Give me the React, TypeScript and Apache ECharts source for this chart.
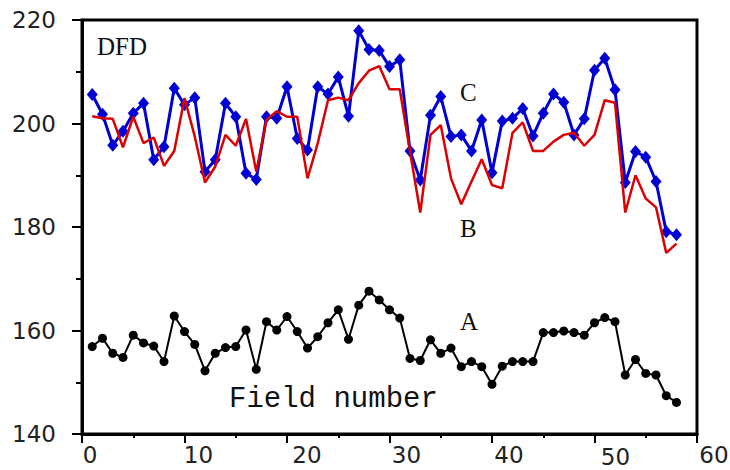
import React, { useEffect, useRef } from "react";
import * as echarts from "echarts";

const fieldNumbers = [
  1, 2, 3, 4, 5, 6, 7, 8, 9, 10, 11, 12, 13, 14, 15, 16, 17, 18, 19, 20,
  21, 22, 23, 24, 25, 26, 27, 28, 29, 30, 31, 32, 33, 34, 35, 36, 37, 38, 39, 40,
  41, 42, 43, 44, 45, 46, 47, 48, 49, 50, 51, 52, 53, 54, 55, 56, 57, 58,
];

const seriesA = [
  156.9, 158.5, 155.6, 154.8, 159.1, 157.6, 157.0, 154.0, 162.8, 159.8,
  157.3, 152.2, 155.6, 156.7, 156.9, 160.1, 152.5, 161.7, 160.1, 162.7,
  159.8, 156.6, 158.8, 161.5, 164.0, 158.3, 164.9, 167.6, 165.9, 164.0,
  162.4, 154.6, 154.2, 158.2, 155.6, 156.6, 153.0, 154.0, 153.0, 149.6,
  153.1, 154.0, 154.0, 154.0, 159.6, 159.6, 159.9, 159.6, 159.1, 161.5,
  162.5, 161.7, 151.4, 154.4, 151.7, 151.4, 147.4, 146.1,
];

const seriesB = [
  201.4, 201.0, 200.9, 195.4, 201.3, 196.2, 197.3, 191.8, 194.7, 204.9,
  197.5, 188.6, 191.7, 197.8, 195.7, 200.9, 190.7, 200.7, 202.4, 201.3,
  201.3, 189.4, 196.2, 204.5, 205.0, 204.5, 207.8, 210.2, 211.1, 206.6,
  206.6, 194.6, 182.8, 197.8, 199.7, 189.4, 184.4, 188.8, 193.1, 188.1,
  187.5, 198.2, 200.2, 194.7, 194.7, 196.5, 197.8, 198.2, 195.7, 197.8,
  204.5, 204.0, 182.8, 190.0, 185.5, 183.8, 175.0, 176.8,
];

const seriesC = [
  205.6, 201.8, 195.8, 198.5, 202.0, 203.9, 193.0, 195.5, 206.8, 203.6,
  205.0, 190.7, 193.0, 203.9, 201.3, 190.4, 189.2, 201.3, 201.0, 207.1,
  197.1, 194.9, 207.1, 205.7, 209.0, 201.4, 217.9, 214.3, 214.1, 211.0,
  212.3, 194.7, 189.1, 201.6, 205.2, 197.5, 197.8, 194.7, 200.7, 190.5,
  200.5, 201.0, 202.9, 197.6, 202.0, 205.7, 204.1, 197.8, 200.9, 210.3,
  212.6, 206.5, 188.6, 194.6, 193.5, 188.8, 179.1, 178.5,
];

const xTickLabels = ["0", "10", "20", "30", "40", "50", "60"];
const yTickLabels = ["140", "160", "180", "200", "220"];

const pairs = (ys: number[]) => ys.map((y, i) => [fieldNumbers[i], y]);

export default function App() {
  const ref = useRef<HTMLDivElement>(null);

  useEffect(() => {
    if (!ref.current) return;
    const chart = echarts.init(ref.current, null, { renderer: "svg" });
    const tickFont = "DejaVu Sans";
    const xRich: Record<string, any> = {
      l0: { padding: [0, 0, 0, 16] },
      l10: { padding: [0, 0, 0, 28] },
      l20: { padding: [0, 0, 0, 40] },
      l30: { padding: [0, 0, 0, 34] },
      l40: { padding: [0, 0, 0, 34] },
      l50: { padding: [4, 0, 0, 42] },
      l60: { padding: [0, 0, 0, 34] },
    };
    Object.keys(xRich).forEach((k) => {
      xRich[k] = { ...xRich[k], fontFamily: tickFont, fontSize: 23, lineHeight: 20, color: "#222" };
    });
    chart.setOption({
      animation: false,
      backgroundColor: "#ffffff",
      grid: {
        left: 82,
        right: 33,
        top: 20,
        bottom: 36,
        show: true,
        borderColor: "#000",
        borderWidth: 3,
        outerBoundsMode: "none",
      },
      xAxis: {
        type: "value",
        min: 0,
        max: 60,
        interval: 10,
        axisLine: { show: true, onZero: false, lineStyle: { color: "#000", width: 3 } },
        axisTick: { show: true, length: 9, lineStyle: { color: "#000", width: 2 } },
        minorTick: { show: true, splitNumber: 2, length: 4, lineStyle: { color: "#000", width: 2 } },
        splitLine: { show: false },
        axisLabel: {
          margin: 11,
          fontFamily: tickFont,
          fontSize: 23,
          lineHeight: 20,
          color: "#222",
          formatter: (v: number) => {
            const s = String(v);
            return xTickLabels.includes(s) ? `{l${s}|${s}}` : "";
          },
          rich: xRich,
        },
      },
      yAxis: {
        type: "value",
        min: 140,
        max: 220,
        interval: 20,
        axisLine: { show: true, lineStyle: { color: "#000", width: 3 } },
        axisTick: { show: true, length: 10, lineStyle: { color: "#000", width: 2 } },
        minorTick: { show: true, splitNumber: 2, length: 6, lineStyle: { color: "#000", width: 2 } },
        splitLine: { show: false },
        axisLabel: {
          margin: 26,
          fontFamily: tickFont,
          fontSize: 23,
          color: "#222",
          formatter: (v: number) => {
            const s = String(v);
            return yTickLabels.includes(s) ? s : "";
          },
        },
      },
      series: [
        {
          name: "C",
          type: "line",
          data: pairs(seriesC),
          symbol: "diamond",
          symbolSize: [11, 13],
          showAllSymbol: true,
          lineStyle: { color: "#0000d4", width: 3 },
          itemStyle: { color: "#0000d4" },
          z: 3,
        },
        {
          name: "B",
          type: "line",
          data: pairs(seriesB),
          symbol: "none",
          lineStyle: { color: "#dd0000", width: 2.5 },
          itemStyle: { color: "#dd0000" },
          z: 4,
        },
        {
          name: "A",
          type: "line",
          data: pairs(seriesA),
          symbol: "circle",
          symbolSize: 9,
          showAllSymbol: true,
          lineStyle: { color: "#000", width: 2 },
          itemStyle: { color: "#000" },
          z: 3,
        },
      ],
      graphic: [
        {
          type: "text",
          left: 97,
          top: 34,
          style: { text: "DFD", font: '25px "Liberation Serif"', fill: "#111" },
        },
        {
          type: "text",
          left: 460,
          top: 80,
          style: { text: "C", font: '25px "Liberation Serif"', fill: "#111" },
        },
        {
          type: "text",
          left: 460,
          top: 216,
          style: { text: "B", font: '25px "Liberation Serif"', fill: "#111" },
        },
        {
          type: "text",
          left: 460,
          top: 309,
          style: { text: "A", font: '25px "Liberation Serif"', fill: "#111" },
        },
        {
          type: "text",
          left: 229,
          top: 385,
          style: { text: "Field number", font: '29px "Liberation Mono"', fill: "#111" },
        },
      ],
    });
    return () => chart.dispose();
  }, []);

  return (
    <div
      ref={ref}
      style={{ position: "fixed", left: 0, top: 0, width: 730, height: 470, background: "#fff" }}
    />
  );
}
